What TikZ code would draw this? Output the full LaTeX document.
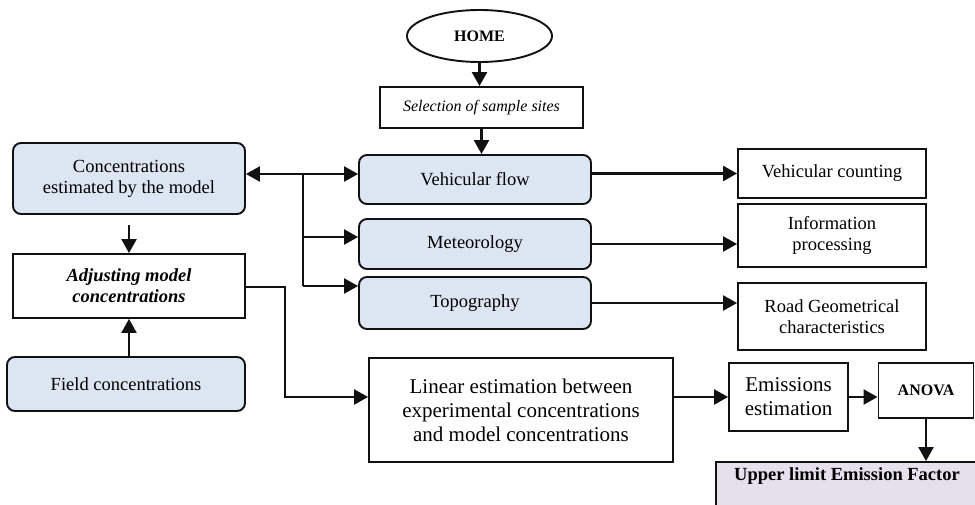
\documentclass[tikz,border=0pt]{standalone}
\usepackage{fontspec}
\setmainfont{Liberation Serif}
\usepackage{tikz}
\usetikzlibrary{arrows.meta,shapes.geometric}
\definecolor{ink}{HTML}{111111}
\definecolor{pale}{HTML}{DCE6F2}
\definecolor{lilac}{HTML}{E5E0EC}
\tikzset{
  box/.style={draw=ink, line width=1.9pt, fill=white, inner sep=2pt, align=center, font=\fontsize{18.5}{21}\selectfont},
  bluebox/.style={box, rounded corners=8pt, fill=pale},
  startnode/.style={ellipse, draw=ink, line width=1.9pt, inner sep=0pt, font=\fontsize{16}{18}\selectfont\bfseries},
  flow/.style={-{Triangle[length=14pt,width=15pt]}, line width=2.4pt, draw=ink},
  link/.style={line width=2.4pt, draw=ink},
}
\begin{document}
\begin{tikzpicture}[x=1pt,y=-1pt]
  \useasboundingbox (0,0) rectangle (975,504);
  \clip (0,0) rectangle (975,504);
  % top of the chart
  \node[startnode,minimum width=145pt,minimum height=52pt](home) at (479.5,36){HOME};
  \node[box,minimum width=203pt,minimum height=41pt,font=\fontsize{16}{18}\selectfont\itshape](sel) at (481.5,107.5){Selection of sample sites};
  % field inputs
  \node[bluebox,minimum width=232pt,minimum height=49pt](vflow) at (475,179.5){Vehicular flow};
  \node[bluebox,minimum width=232pt,minimum height=50pt](met) at (475,244){Meteorology};
  \node[bluebox,minimum width=232pt,minimum height=52pt](topo) at (475,303){Topography};
  \node[box,minimum width=188pt,minimum height=49pt](count) at (832,173.5){Vehicular counting};
  \node[box,minimum width=188pt,minimum height=63pt](info) at (832,235.5){Information\\processing};
  \node[box,minimum width=188pt,minimum height=67pt](road) at (832,316.5){Road Geometrical\\characteristics};
  % model side
  \node[bluebox,minimum width=232pt,minimum height=71pt](conc) at (129,178.5){Concentrations\\estimated by the model};
  \node[box,minimum width=232pt,minimum height=64pt,font=\fontsize{18.5}{21}\selectfont\bfseries\itshape](adj) at (129,286){Adjusting model\\concentrations};
  \node[bluebox,minimum width=238pt,minimum height=54pt](field) at (126,384){Field concentrations};
  % results
  \node[box,minimum width=304pt,minimum height=104pt,font=\fontsize{21}{24}\selectfont](lin) at (521,410){Linear estimation between\\experimental concentrations\\and model concentrations};
  \node[box,minimum width=119pt,minimum height=68pt,font=\fontsize{21}{24}\selectfont](emis) at (788.5,397){Emissions\\estimation};
  \node[box,minimum width=95pt,minimum height=55pt,font=\fontsize{16}{18}\selectfont\bfseries](anova) at (926,390.5){ANOVA};
  \node[box,fill=lilac,minimum width=262pt,minimum height=60pt,text depth=35pt,font=\fontsize{18.5}{21}\selectfont\bfseries](upper) at (847,492){Upper limit Emission Factor};
  % junctions
  \coordinate(jn) at (303,174);
  \coordinate(jm) at (303,237);
  \coordinate(jt) at (303,286);
  \coordinate(bend) at (285,287);
  \draw[flow](home)--(home |- sel.north);
  \draw[flow](sel.south)--(sel.south |- vflow.north);
  \draw[link](jn)--(jt);
  \draw[flow](jn)--(jn -| conc.east);
  \draw[flow](jn)--(jn -| vflow.west);
  \draw[flow](jm)--(jm -| met.west);
  \draw[flow](jt)--(jt -| topo.west);
  \draw[flow](vflow.east |- count.west)--(count.west);
  \draw[flow](met.east)--(met.east -| info.west);
  \draw[flow](topo.east)--(topo.east -| road.west);
  \draw[flow]([yshift=-10pt]conc.south)--(adj.north);
  \draw[flow](adj.south |- field.north)--(adj.south);
  \draw[flow](adj.east |- bend)--(bend)|-(lin.west |- emis.west);
  \draw[flow](lin.east |- emis.west)--(emis.west);
  \draw[flow](emis.east)--(emis.east -| anova.west);
  \draw[flow](anova.south)--(anova.south |- upper.north);
\end{tikzpicture}
\end{document}
